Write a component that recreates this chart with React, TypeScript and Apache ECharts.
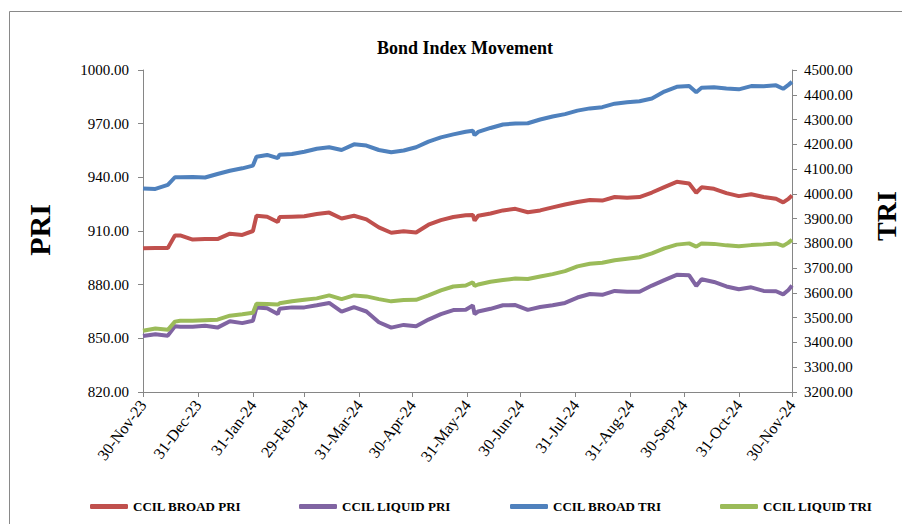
import React, { useEffect, useRef } from "react";
import * as echarts from "echarts";

const dates = [
  "2023-11-30", "2023-12-07", "2023-12-14", "2023-12-18", "2023-12-21", "2023-12-28",
  "2024-01-04", "2024-01-11", "2024-01-18", "2024-01-25", "2024-01-31", "2024-02-02",
  "2024-02-08", "2024-02-14", "2024-02-15", "2024-02-22", "2024-02-29", "2024-03-07",
  "2024-03-14", "2024-03-21", "2024-03-28", "2024-04-04", "2024-04-11", "2024-04-18",
  "2024-04-25", "2024-05-02", "2024-05-09", "2024-05-16", "2024-05-23", "2024-05-30",
  "2024-06-03", "2024-06-04", "2024-06-06", "2024-06-13", "2024-06-20", "2024-06-27",
  "2024-07-04", "2024-07-11", "2024-07-18", "2024-07-25", "2024-08-01", "2024-08-08",
  "2024-08-15", "2024-08-22", "2024-08-29", "2024-09-05", "2024-09-12", "2024-09-19",
  "2024-09-26", "2024-10-03", "2024-10-07", "2024-10-10", "2024-10-17", "2024-10-24",
  "2024-10-31", "2024-11-07", "2024-11-14", "2024-11-21", "2024-11-25", "2024-11-28",
  "2024-11-30",
];

const broadPri = [
  900.3, 900.5, 900.5, 907.5, 907.5, 905.2, 905.5, 905.5, 908.5, 907.8,
  910, 918.5, 918, 915, 917.8, 918, 918.2, 919.5, 920.3, 917,
  918.5, 916.5, 912, 909, 909.8, 909.2, 913.5, 916.1, 917.8, 918.8,
  919, 915.8, 918.5, 919.8, 921.5, 922.4, 920.5, 921.5, 923.2, 924.8,
  926.2, 927.3, 927, 929, 928.6, 929, 931.5, 934.5, 937.5, 936.5,
  931.4, 934.4, 933.6, 931.2, 929.5, 930.5, 929, 928, 926, 928, 929.8,
];

const liquidPri = [
  851.3, 852.3, 851.5, 856.7, 856.5, 856.5, 857, 856, 859.5, 858.5,
  859.8, 867.2, 866.8, 863.6, 866.5, 867.3, 867.3, 868.5, 869.8, 864.9,
  867.5, 865, 859, 856, 857.5, 856.8, 860.5, 863.5, 865.8, 866,
  868.4, 863.6, 865, 866.5, 868.5, 868.6, 865.9, 867.5, 868.5, 869.8,
  872.8, 874.8, 874.3, 876.5, 876, 876, 879.5, 882.5, 885.5, 885.2,
  879.3, 883, 881.5, 879, 877.4, 878.5, 876.5, 876.3, 874.6, 877, 879.5,
];

const broadTri = [
  4022, 4020, 4036, 4067, 4067, 4068, 4066, 4080, 4093, 4103,
  4114, 4150, 4157, 4144, 4158, 4161, 4170, 4182, 4188, 4177,
  4200, 4195, 4177, 4168, 4175, 4188, 4211, 4228, 4240, 4251,
  4255, 4237, 4250, 4266, 4280, 4284, 4285, 4300, 4312, 4322,
  4336, 4345, 4350, 4364, 4370, 4374, 4385, 4413, 4432, 4435,
  4410, 4428, 4430, 4425, 4422, 4435, 4434, 4438, 4424, 4440, 4452,
];

const liquidTri = [
  3447, 3456, 3451, 3484, 3488, 3488, 3490, 3492, 3508, 3514,
  3520, 3556, 3555, 3553, 3558, 3566, 3572, 3578, 3590, 3575,
  3590, 3586, 3575, 3566, 3571, 3572, 3590, 3610, 3626, 3630,
  3643, 3628, 3634, 3645, 3652, 3658, 3656, 3666, 3676, 3688,
  3707, 3718, 3722, 3732, 3738, 3744, 3760, 3780, 3795, 3800,
  3787, 3800, 3798, 3792, 3788, 3793, 3796, 3800, 3790, 3803, 3815,
];

const tickDates = [
  "2023-11-30", "2023-12-31", "2024-01-31", "2024-02-29", "2024-03-31", "2024-04-30",
  "2024-05-31", "2024-06-30", "2024-07-31", "2024-08-31", "2024-09-30", "2024-10-31",
  "2024-11-30",
];

const seriesNames = ["CCIL BROAD PRI", "CCIL LIQUID PRI", "CCIL BROAD TRI", "CCIL LIQUID TRI"];
const seriesColors = ["#C0504D", "#8064A2", "#4F81BD", "#9BBB59"];
const monthNames = ["Jan", "Feb", "Mar", "Apr", "May", "Jun", "Jul", "Aug", "Sep", "Oct", "Nov", "Dec"];

const toTs = (s: string) => {
  const [y, m, d] = s.split("-").map(Number);
  return Date.UTC(y, m - 1, d);
};

const fmtDate = (v: number) => {
  const d = new Date(v);
  return `${d.getUTCDate()}-${monthNames[d.getUTCMonth()]}-${String(d.getUTCFullYear()).slice(2)}`;
};

const FONT = "'Liberation Serif', 'Times New Roman', serif";

export default function App() {
  const ref = useRef<HTMLDivElement>(null);

  useEffect(() => {
    document.body.style.margin = "0";
    if (!ref.current) return;
    const chart = echarts.init(ref.current, undefined, { renderer: "svg" });
    const valueSets = [broadPri, liquidPri, broadTri, liquidTri];
    const axisIdx = [0, 0, 1, 1];
    const tickTs = tickDates.map(toTs);

    const axisLineStyle = { color: "#868686", width: 1 };

    chart.setOption({
      animation: false,
      backgroundColor: "#ffffff",
      title: {
        text: "Bond Index Movement",
        left: 460,
        top: 34,
        textAlign: "center",
        textStyle: { fontFamily: FONT, fontSize: 18, fontWeight: "bold", color: "#000" },
      },
      grid: { left: 143, right: 110, top: 70, bottom: 132, containLabel: false },
      legend: seriesNames.map((n, i) => ({
        data: [n],
        left: [85, 294, 505, 715][i],
        top: 495,
        icon: "roundRect",
        itemWidth: 38,
        itemHeight: 5,
        textStyle: { fontFamily: FONT, fontSize: 13, fontWeight: "bold", color: "#000" },
      })),
      xAxis: {
        type: "value",
        min: toTs("2023-11-30"),
        max: toTs("2024-11-30"),
        axisLine: { lineStyle: axisLineStyle },
        axisTick: { show: true, length: 5, customValues: tickTs, lineStyle: axisLineStyle },
        splitLine: { show: false },
        axisLabel: {
          customValues: tickTs,
          rotate: 53,
          margin: 10,
          showMinLabel: true,
          showMaxLabel: true,
          hideOverlap: false,
          formatter: (v: number) => fmtDate(v),
          fontFamily: FONT,
          fontSize: 16,
          color: "#000",
        },
      },
      yAxis: [
        {
          type: "value",
          min: 820,
          max: 1000,
          interval: 30,
          position: "left",
          axisLine: { show: true, lineStyle: axisLineStyle },
          axisTick: { show: true, length: 5, lineStyle: axisLineStyle },
          splitLine: { show: false },
          axisLabel: {
            margin: 14,
            formatter: (v: number) => v.toFixed(2),
            fontFamily: FONT,
            fontSize: 15,
            color: "#000",
          },
        },
        {
          type: "value",
          min: 3200,
          max: 4500,
          interval: 100,
          position: "right",
          axisLine: { show: true, lineStyle: axisLineStyle },
          axisTick: { show: true, length: 5, lineStyle: axisLineStyle },
          splitLine: { show: false },
          axisLabel: {
            margin: 12,
            formatter: (v: number) => v.toFixed(2),
            fontFamily: FONT,
            fontSize: 15,
            color: "#000",
          },
        },
      ],
      graphic: [
        {
          type: "rect",
          shape: { x: 9.5, y: 11.5, width: 900, height: 520 },
          style: { fill: "none", stroke: "#898989", lineWidth: 1 },
          silent: true,
        },
        {
          type: "text",
          x: 39,
          y: 230,
          rotation: Math.PI / 2,
          style: {
            text: "PRI",
            fontFamily: FONT,
            fontSize: 30,
            fontWeight: "bold",
            fill: "#000",
            align: "center",
            verticalAlign: "middle",
          },
        },
        {
          type: "text",
          x: 886,
          y: 216,
          rotation: Math.PI / 2,
          style: {
            text: "TRI",
            fontFamily: FONT,
            fontSize: 28,
            fontWeight: "bold",
            fill: "#000",
            align: "center",
            verticalAlign: "middle",
          },
        },
      ],
      series: seriesNames.map((n, i) => ({
        name: n,
        type: "line",
        yAxisIndex: axisIdx[i],
        showSymbol: false,
        symbol: "none",
        color: seriesColors[i],
        lineStyle: { width: 4, color: seriesColors[i] },
        data: dates.map((d, k) => [toTs(d), valueSets[i][k]]),
      })),
    });

    return () => chart.dispose();
  }, []);

  return (
    <div
      ref={ref}
      style={{ width: 902, height: 524, position: "absolute", left: 0, top: 0 }}
    />
  );
}
